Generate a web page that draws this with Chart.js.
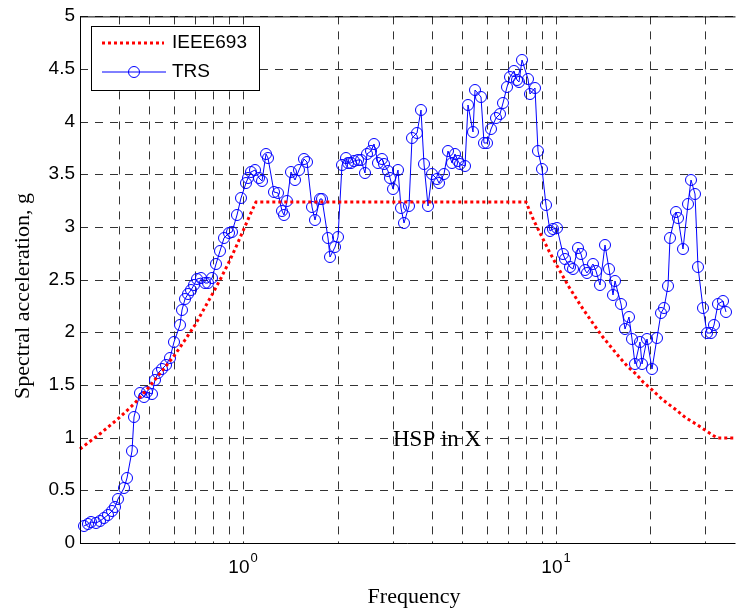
<!DOCTYPE html>
<html>
<head>
<meta charset="utf-8">
<script src="https://cdn.jsdelivr.net/npm/chart.js@4/dist/chart.umd.min.js"></script>
<style>
html,body{margin:0;padding:0;background:#fff;}
#wrap{width:742px;height:611px;}
</style>
</head>
<body>
<div id="wrap"><canvas id="c" width="742" height="611"></canvas></div>
<script>
// ---- data ----
const ieeeFreq = [0.3,0.35,0.4,0.45,0.5,0.55,0.6,0.65,0.7,0.75,0.8,0.85,0.9,0.95,1.0,1.05,1.1,8,8.5,9,9.5,10,11,12,13,14,15,16,17,18,19,20,22,24,26,28,30,32,33,37.5];
const ieeeAcc  = [0.89,1.04,1.19,1.33,1.48,1.63,1.78,1.93,2.07,2.22,2.37,2.52,2.67,2.81,2.96,3.11,3.24,3.24,3.06,2.91,2.77,2.65,2.43,2.25,2.10,1.97,1.86,1.76,1.67,1.60,1.53,1.47,1.36,1.27,1.19,1.13,1.07,1.02,1.00,1.00];

const trsFreq = [0.309,0.318,0.326,0.337,0.347,0.358,0.368,0.380,0.388,0.396,0.414,0.424,0.440,0.448,0.467,0.479,0.491,0.509,0.521,0.534,
0.549,0.566,0.582,0.600,0.626,0.636,0.651,0.665,0.681,0.693,0.710,0.734,0.755,0.773,0.796,0.816,0.844,0.869,0.896,0.921,
0.952,0.983,1.018,1.037,1.060,1.089,1.121,1.144,1.178,1.197,1.251,1.291,1.329,1.346,1.378,1.423,1.458,1.509,1.557,1.595,
1.654,1.696,1.759,1.780,1.868,1.891,1.962,2.010,2.069,2.135,2.162,2.214,2.258,2.326,2.382,2.453,2.489,2.563,2.614,2.691,
2.770,2.826,2.894,2.952,3.002,3.113,3.189,3.269,3.391,3.473,3.602,3.690,3.791,3.895,4.019,4.147,4.229,4.377,4.499,4.649,
4.763,4.857,4.940,5.123,5.214,5.408,5.500,5.734,5.902,6.002,6.179,6.442,6.599,6.760,6.944,7.114,7.335,7.513,7.635,7.804,
8.124,8.256,8.537,8.770,9.049,9.296,9.572,9.804,10.09,10.50,10.72,11.07,11.34,11.72,12.00,12.40,12.60,13.13,13.39,13.84,
14.33,14.75,15.25,15.49,16.13,16.63,17.07,17.54,17.93,18.59,18.77,19.56,20.25,20.99,21.67,22.12,22.85,23.14,24.12,24.58,
25.49,26.44,27.10,27.93,28.44,29.49,30.30,31.27,32.06,33.01,34.14,34.87];
const trsAcc = [0.16,0.18,0.195,0.19,0.21,0.24,0.265,0.30,0.34,0.42,0.52,0.62,0.87,1.20,1.42,1.39,1.43,1.41,1.55,1.61,
1.65,1.69,1.76,1.91,2.07,2.21,2.32,2.36,2.40,2.45,2.51,2.52,2.47,2.47,2.52,2.65,2.77,2.90,2.94,2.95,
3.11,3.28,3.42,3.47,3.52,3.54,3.47,3.44,3.69,3.66,3.33,3.32,3.15,3.11,3.25,3.52,3.45,3.54,3.65,3.62,
3.19,3.07,3.27,3.27,2.90,2.72,2.81,2.91,3.59,3.66,3.61,3.61,3.63,3.64,3.64,3.51,3.69,3.72,3.79,3.61,
3.65,3.60,3.53,3.47,3.36,3.54,3.18,3.04,3.20,3.85,3.89,4.11,3.60,3.20,3.50,3.46,3.42,3.50,3.72,3.61,
3.69,3.63,3.60,3.58,4.16,3.90,4.30,4.23,3.80,3.80,3.93,4.04,4.07,4.18,4.33,4.42,4.48,4.40,4.38,4.59,
4.41,4.26,4.32,3.72,3.55,3.21,2.96,2.98,2.99,2.74,2.70,2.62,2.60,2.80,2.74,2.59,2.56,2.65,2.58,2.45,
2.83,2.60,2.35,2.49,2.27,2.03,2.15,1.94,1.70,1.91,1.70,1.94,1.65,1.95,2.18,2.23,2.44,2.90,3.14,3.09,
2.79,3.22,3.45,3.31,2.62,2.23,1.99,1.99,2.07,2.27,2.30,2.19];

const xGridTicks = [0.4,0.5,0.6,0.7,0.8,0.9,1,2,3,4,5,6,7,8,9,10,20,30];
const yTickValues = [0,0.5,1,1.5,2,2.5,3,3.5,4,4.5,5];
const yTickLabels = ['0','0.5','1','1.5','2','2.5','3','3.5','4','4.5','5'];
const xLabelValues = [1, 10];
const xLabelExps = ['0', '1'];
const seriesNames = ['IEEE693', 'TRS'];
const xTitle = 'Frequency';
const yTitle = 'Spectral acceleration, g';
const noteText = 'HSP in X';
const notePos = [3, 1];

const RED = '#ff0000', BLUE = '#0000ff';
const SANS = '"Liberation Sans", Arial, sans-serif';
const SERIF = '"Liberation Serif", "Times New Roman", serif';

const overlay = {
  id: 'overlay',
  afterDatasetsDraw(chart) {
    const {ctx, chartArea: a, scales: {x, y}} = chart;
    ctx.save();
    // frame
    ctx.setLineDash([]);
    ctx.strokeStyle = '#000';
    ctx.lineWidth = 1;
    ctx.beginPath();
    ctx.moveTo(a.left + 0.5, a.top + 0.5); ctx.lineTo(a.right, a.top + 0.5);
    ctx.moveTo(a.left + 0.5, a.top); ctx.lineTo(a.left + 0.5, a.bottom + 1);
    ctx.moveTo(a.left, a.bottom + 0.5); ctx.lineTo(a.right, a.bottom + 0.5);
    ctx.stroke();

    // x tick labels 10^n
    ctx.fillStyle = '#000';
    ctx.textBaseline = 'alphabetic';
    ctx.textAlign = 'left';
    xLabelValues.forEach((v, i) => {
      const px = x.getPixelForValue(v);
      ctx.font = '19px ' + SANS;
      const wb = ctx.measureText('10').width;
      ctx.font = '13px ' + SANS;
      const we = ctx.measureText(xLabelExps[i]).width;
      const start = px - (wb + we + 1) / 2;
      ctx.font = '19px ' + SANS;
      ctx.fillText('10', start, a.bottom + 30);
      ctx.font = '13px ' + SANS;
      ctx.fillText(xLabelExps[i], start + wb + 1, a.bottom + 19);
    });

    // axis titles
    ctx.font = '22px ' + SERIF;
    ctx.textAlign = 'center';
    ctx.fillText(xTitle, 414, 603);
    ctx.save();
    ctx.translate(29, 296);
    ctx.rotate(-Math.PI / 2);
    ctx.textBaseline = 'alphabetic';
    ctx.fillText(yTitle, 0, 0);
    ctx.restore();

    // annotation
    ctx.font = '23px ' + SERIF;
    ctx.textAlign = 'left';
    ctx.fillText(noteText, x.getPixelForValue(notePos[0]), y.getPixelForValue(notePos[1]) + 8);

    // legend
    const lx = 91, ly = 26, lw = 168, lh = 64;
    ctx.fillStyle = '#fff';
    ctx.fillRect(lx, ly, lw, lh);
    ctx.strokeStyle = '#000';
    ctx.lineWidth = 1;
    ctx.strokeRect(lx + 0.5, ly + 0.5, lw, lh);
    ctx.strokeStyle = RED;
    ctx.lineWidth = 3;
    ctx.setLineDash([3, 3]);
    ctx.beginPath(); ctx.moveTo(102, 43); ctx.lineTo(164, 43); ctx.stroke();
    ctx.setLineDash([]);
    ctx.strokeStyle = BLUE;
    ctx.lineWidth = 1;
    ctx.beginPath(); ctx.moveTo(102, 72); ctx.lineTo(166, 72); ctx.stroke();
    ctx.beginPath(); ctx.arc(134, 72, 5.5, 0, Math.PI * 2); ctx.stroke();
    ctx.fillStyle = '#000';
    ctx.font = '19px ' + SANS;
    ctx.textBaseline = 'middle';
    ctx.fillText(seriesNames[0], 172, 43);
    ctx.fillText(seriesNames[1], 172, 72);
    ctx.restore();
  }
};

const gridOpts = {color: '#333', lineWidth: 1, drawTicks: false};

new Chart(document.getElementById('c'), {
  type: 'line',
  data: {
    datasets: [
      {
        label: seriesNames[0],
        data: ieeeFreq.map((f, i) => ({x: f, y: ieeeAcc[i]})),
        borderColor: RED, borderWidth: 3, borderDash: [3, 3],
        pointRadius: 0, fill: false, tension: 0, clip: false
      },
      {
        label: seriesNames[1],
        data: trsFreq.map((f, i) => ({x: f, y: trsAcc[i]})),
        borderColor: BLUE, borderWidth: 1,
        pointRadius: 5.5, pointStyle: 'circle',
        pointBackgroundColor: 'rgba(0,0,0,0)', pointBorderColor: BLUE, pointBorderWidth: 1,
        fill: false, tension: 0, clip: false
      }
    ]
  },
  options: {
    responsive: false, animation: false,
    layout: {padding: {top: 15, right: 0, left: 0, bottom: 0}},
    plugins: {legend: {display: false}, tooltip: {enabled: false}},
    scales: {
      x: {
        type: 'logarithmic', min: 0.3, max: 37.5, alignToPixels: true,
        afterBuildTicks: s => { s.ticks = xGridTicks.map(v => ({value: v})); },
        ticks: {display: false},
        grid: gridOpts,
        border: {display: false, dash: [8, 7]},
        afterFit: s => { s.height = 68; }
      },
      y: {
        min: 0, max: 5, alignToPixels: true,
        afterBuildTicks: s => { s.ticks = yTickValues.map(v => ({value: v})); },
        ticks: {
          color: '#000', padding: 5, font: {family: SANS, size: 19},
          callback: (v) => { const i = yTickValues.indexOf(v); return i >= 0 ? yTickLabels[i] : ''; }
        },
        grid: gridOpts,
        border: {display: false, dash: [8, 7]},
        afterFit: s => { s.width = 80; }
      }
    }
  },
  plugins: [overlay]
});
</script>
</body>
</html>
